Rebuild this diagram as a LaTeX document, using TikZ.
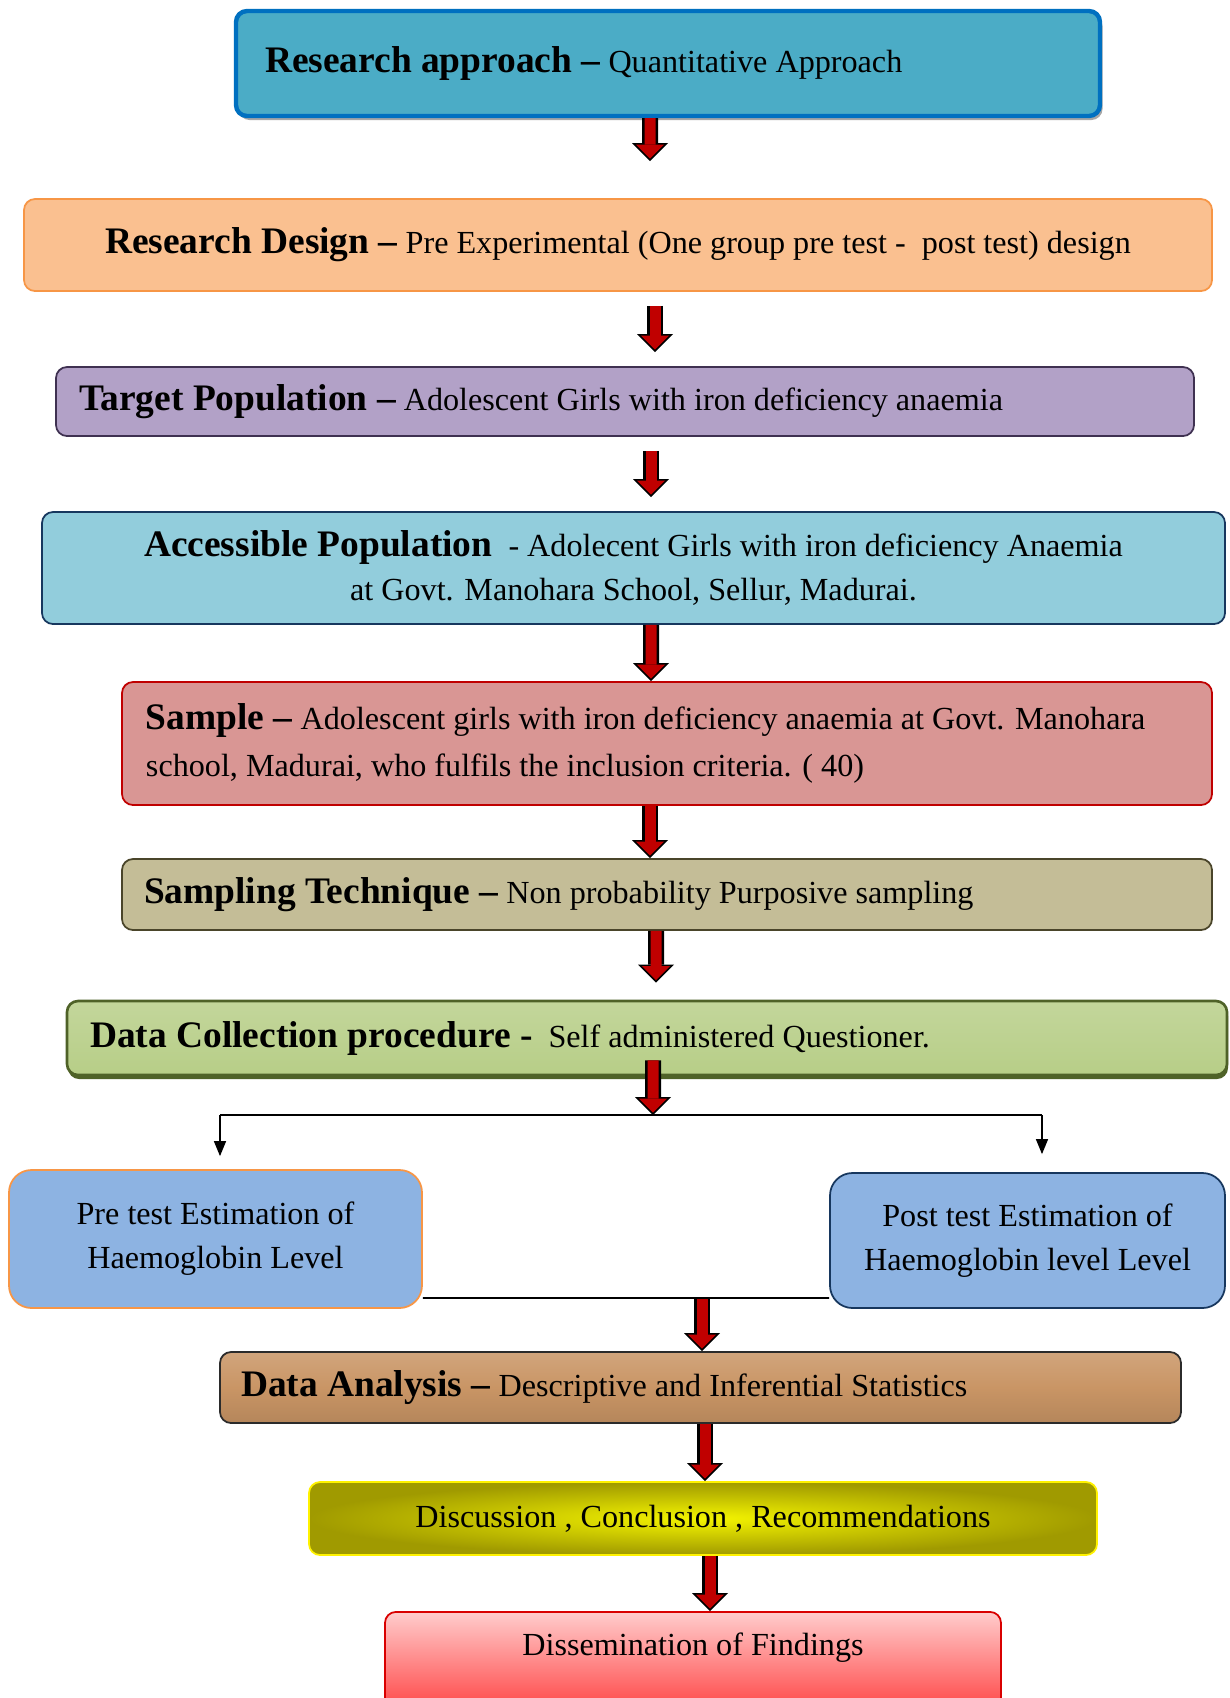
\documentclass[tikz,border=0pt]{standalone}
\usepackage{fontspec}
\setmainfont{Liberation Serif}
\usetikzlibrary{arrows.meta, shadows}

\definecolor{approachfill}{HTML}{4BACC6}
\definecolor{approachline}{HTML}{0070C0}
\definecolor{designfill}{HTML}{FAC090}
\definecolor{designline}{HTML}{F79646}
\definecolor{targetfill}{HTML}{B2A1C7}
\definecolor{targetline}{HTML}{3F3151}
\definecolor{accessfill}{HTML}{92CDDC}
\definecolor{navyline}{HTML}{17375E}
\definecolor{samplefill}{HTML}{D99694}
\definecolor{sampleline}{HTML}{C00000}
\definecolor{techfill}{HTML}{C4BD97}
\definecolor{techline}{HTML}{4A452A}
\definecolor{greenlight}{HTML}{C3D69B}
\definecolor{greenmid}{HTML}{9BBB59}
\definecolor{greenline}{HTML}{4F6228}
\definecolor{estfill}{HTML}{8DB3E2}
\definecolor{woodfill}{HTML}{C99565}
\definecolor{woodline}{HTML}{2B2B2B}
\definecolor{yellowhi}{HTML}{F4F400}
\definecolor{olivedark}{HTML}{A09A00}
\definecolor{pinktop}{HTML}{FFCCCC}
\definecolor{redbottom}{HTML}{FF2A2A}
\definecolor{arrowred}{HTML}{C00000}

\newcommand{\hd}[1]{{\fontsize{21.3}{25}\selectfont\bfseries #1}}

\begin{document}
\begin{tikzpicture}[
  box/.style={draw, rounded corners=0.22cm, line width=1pt, font=\fontsize{18.3}{25}\selectfont, inner ysep=0.1cm},
  leftbox/.style={box, align=flush left},
  midbox/.style={box, align=center},
  flowarrow/.style={draw=arrowred, line width=0.22cm, -{Triangle[width=0.56cm, length=0.28cm, line width=0pt]}, shorten >=0.05cm,
    preaction={draw=black, line width=0.32cm, -{Triangle[width=0.72cm, length=0.36cm, line width=0pt]}, shorten >=0pt}},
  thinarrow/.style={line width=0.8pt, -{Triangle[width=0.24cm, length=0.3cm]}}
]
\path[use as bounding box, fill=white] (0,0) rectangle (24.6,-33.96);

\node[leftbox, draw=approachline, line width=2.5pt, fill=approachfill, text width=16.12cm, inner xsep=0.58cm, minimum height=2.1cm,
  drop shadow={shadow xshift=0.05cm, shadow yshift=-0.08cm, fill=gray!70, opacity=1}] (ra) at (13.36,-1.27)
  {\hd{Research approach –} Quantitative Approach};
\node[midbox, draw=designline, fill=designfill, minimum width=23.76cm, minimum height=1.84cm] (rd) at (12.36,-4.9)
  {\hd{Research Design –} Pre Experimental (One group pre test -\ \ post test) design};
\node[leftbox, draw=targetline, fill=targetfill, text width=21.84cm, inner xsep=0.46cm, minimum height=1.38cm] (tp) at (12.5,-8.03)
  {\hd{Target Population –} Adolescent Girls with iron deficiency anaemia};
\node[midbox, draw=navyline, fill=accessfill, minimum width=23.66cm, minimum height=2.24cm] (ap) at (12.67,-11.36)
  {\hd{Accessible Population}\ \ - Adolecent Girls with iron deficiency Anaemia\\at Govt. Manohara School, Sellur, Madurai.};
\node[leftbox, draw=sampleline, fill=samplefill, text width=20.84cm, inner xsep=0.48cm, minimum height=2.46cm,
  font=\fontsize{18.3}{27}\selectfont] (sm) at (13.34,-14.87)
  {\hd{Sample –} Adolescent girls with iron deficiency anaemia at Govt. Manohara\\school, Madurai, who fulfils the inclusion criteria. ( 40)};
\node[leftbox, draw=techline, fill=techfill, text width=20.92cm, inner xsep=0.44cm, minimum height=1.42cm] (st) at (13.34,-17.89)
  {\hd{Sampling Technique –} Non probability Purposive sampling};
\node[leftbox, draw=greenline, line width=1.5pt, top color=greenlight, middle color=greenmid, bottom color=greenlight!70!greenmid,
  text width=22.28cm, inner xsep=0.46cm, minimum height=1.48cm,
  drop shadow={shadow xshift=0.02cm, shadow yshift=-0.08cm, fill=greenline, opacity=1}] (dc) at (12.94,-20.76)
  {\hd{Data Collection procedure -}\ \ Self administered Questioner.};
\node[midbox, rounded corners=0.45cm, draw=designline, fill=estfill, minimum width=8.26cm, minimum height=2.76cm] (pre) at (4.31,-24.78)
  {Pre test Estimation of\\Haemoglobin Level};
\node[midbox, rounded corners=0.45cm, draw=navyline, fill=estfill, minimum width=7.9cm, minimum height=2.7cm] (post) at (20.55,-24.81)
  {Post test Estimation of\\Haemoglobin level Level};
\node[leftbox, draw=woodline, top color=woodfill!85!white, bottom color=woodfill!90!black, middle color=woodfill,
  text width=18.38cm, inner xsep=0.42cm, minimum height=1.42cm] (da) at (14.01,-27.75)
  {\hd{Data Analysis –} Descriptive and Inferential Statistics};
\node[midbox, draw=yellow, shading=radial, inner color=yellowhi, outer color=olivedark, minimum width=15.76cm, minimum height=1.46cm] (dis) at (14.06,-30.37)
  {Discussion , Conclusion , Recommendations};
\node[midbox, draw=red!85!black, top color=pinktop, bottom color=redbottom, minimum width=12.32cm,
  inner ysep=0.2cm, text height=0.68cm, text depth=1.3cm, anchor=north] (df) at (13.86,-32.22)
  {Dissemination of Findings};

\coordinate (fork) at (13.06,-22.3);
\coordinate (forkL) at (4.4,-22.3);
\coordinate (forkR) at (20.84,-22.3);
\coordinate (join) at (14.04,-25.98);

\draw[flowarrow] ([xshift=-0.36cm]ra.south) -- ([xshift=0.64cm, yshift=0.74cm]rd.north);
\draw[flowarrow] ([xshift=0.74cm, yshift=-0.28cm]rd.south) -- ([xshift=0.6cm, yshift=0.28cm]tp.north);
\draw[flowarrow] ([xshift=0.52cm, yshift=-0.28cm]tp.south) -- ([xshift=0.35cm, yshift=0.28cm]ap.north);
\draw[flowarrow] ([xshift=0.35cm]ap.south) -- ([xshift=-0.32cm]sm.north);
\draw[flowarrow] ([xshift=-0.34cm]sm.south) -- ([xshift=-0.34cm]st.north);
\draw[flowarrow] ([xshift=-0.22cm]st.south) -- ([xshift=0.18cm, yshift=0.34cm]dc.north);

\draw[line width=1pt] (forkL) -- (forkR);
\draw[thinarrow, shorten >=0.26cm] (forkL) -- (forkL |- pre.north);
\draw[thinarrow, shorten >=0.36cm] (forkR) -- (forkR |- post.north);
\draw[flowarrow] ([xshift=0.12cm, yshift=0.32cm]dc.south) -- (fork);

\draw[line width=1pt] ([yshift=0.22cm]pre.south east) -- ([yshift=0.22cm]post.south west);
\draw[flowarrow] (join) -- (join |- da.north);
\draw[flowarrow] ([xshift=0.09cm]da.south) -- ([xshift=0.04cm]dis.north);
\draw[flowarrow] ([xshift=0.14cm]dis.south) -- ([xshift=0.34cm]df.north);

\end{tikzpicture}
\end{document}
